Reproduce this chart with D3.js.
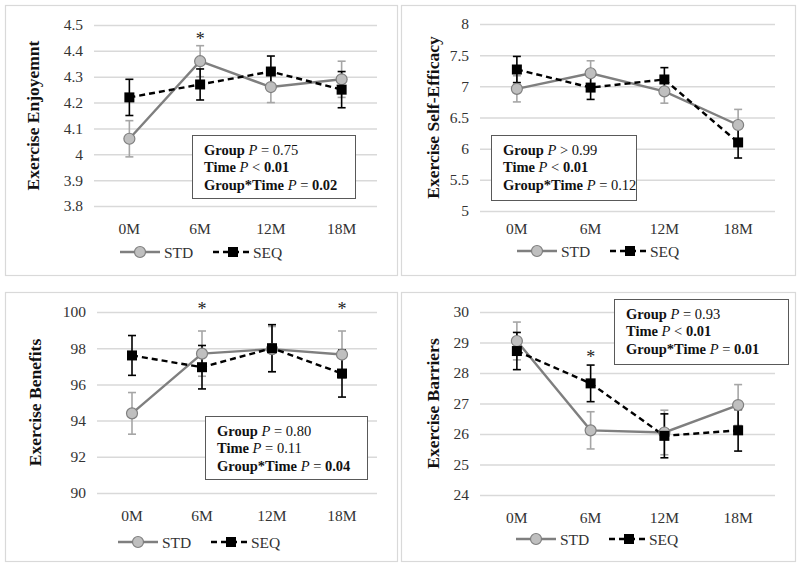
<!DOCTYPE html>
<html><head><meta charset="utf-8">
<script src="https://cdn.jsdelivr.net/npm/d3@7"></script>
<style>body{margin:0;background:#fff}svg{display:block}text{font-family:"Liberation Serif","Times New Roman",serif}</style>
</head><body><svg id="c" width="800" height="569"></svg>
<script>
const categories = ["0M","6M","12M","18M"];
const seriesNames = ["STD","SEQ"];

const enjoyStd = [4.06,4.36,4.26,4.29];
const enjoyStdErr = [0.07,0.06,0.06,0.07];
const enjoySeq = [4.22,4.27,4.32,4.25];
const enjoySeqErr = [0.07,0.06,0.06,0.07];
const enjoyTicks = [3.8,3.9,4.0,4.1,4.2,4.3,4.4,4.5];
const enjoyStars = [["6M",4.455]];

const effStd = [6.96,7.21,6.92,6.38];
const effStdErr = [0.21,0.20,0.19,0.25];
const effSeq = [7.27,6.98,7.11,6.10];
const effSeqErr = [0.21,0.19,0.19,0.25];
const effTicks = [5,5.5,6,6.5,7,7.5,8];
const effStars = [];

const benStd = [94.4,97.7,97.95,97.65];
const benStdErr = [1.15,1.25,1.25,1.3];
const benSeq = [97.6,96.95,98.0,96.6];
const benSeqErr = [1.1,1.2,1.3,1.3];
const benTicks = [90,92,94,96,98,100];
const benStars = [["6M",100.25],["18M",100.25]];

const barStd = [29.05,26.12,26.05,26.95];
const barStdErr = [0.62,0.61,0.73,0.67];
const barSeq = [28.72,27.66,25.94,26.12];
const barSeqErr = [0.61,0.6,0.72,0.68];
const barTicks = [24,25,26,27,28,29,30];
const barStars = [["6M",28.6]];

const enjoyStats = [["Group ","0.75",false,"="],["Time ","0.01",true,"<"],["Group*Time ","0.02",true,"="]];
const effStats = [["Group ","0.99",false,">"],["Time ","0.01",true,"<"],["Group*Time ","0.12",false,"="]];
const benStats = [["Group ","0.80",false,"="],["Time ","0.11",false,"="],["Group*Time ","0.04",true,"="]];
const barStats = [["Group ","0.93",false,"="],["Time ","0.01",true,"<"],["Group*Time ","0.01",true,"="]];

const panels = [
 {frame:[5,5,397,275], plot:[94,25,377,206], title:"Exercise Enjoyemnt", titleX:33,
  std:enjoyStd, stdErr:enjoyStdErr, seq:enjoySeq, seqErr:enjoySeqErr, ticks:enjoyTicks, stars:enjoyStars,
  stats:enjoyStats, box:[192,135,355,198], legX:120, legY:252, xlabY:232},
 {frame:[401,5,795,275], plot:[480,24,775,211], title:"Exercise Self-Efficacy", titleX:433,
  std:effStd, stdErr:effStdErr, seq:effSeq, seqErr:effSeqErr, ticks:effTicks, stars:effStars,
  stats:effStats, box:[491,135,636,200], legX:517, legY:251, xlabY:232},
 {frame:[5,292,397,561], plot:[97,312,377,493], title:"Exercise Benefits", titleX:35,
  std:benStd, stdErr:benStdErr, seq:benSeq, seqErr:benSeqErr, ticks:benTicks, stars:benStars,
  stats:benStats, box:[205,416,367,479], legX:118, legY:542, xlabY:519},
 {frame:[401,292,795,561], plot:[480,312,775,495], title:"Exercise Barriers", titleX:433,
  std:barStd, stdErr:barStdErr, seq:barSeq, seqErr:barSeqErr, ticks:barTicks, stars:barStars,
  stats:barStats, box:[614,299,788,364], legX:516, legY:539, xlabY:521}
];

const svg = d3.select("#c");
const STD_LINE = "#7f7f7f", STD_FILL = "#bfbfbf", STD_ERR = "#a6a6a6", GRID = "#d9d9d9", TXT = "#333";

panels.forEach(p => {
  const g = svg.append("g");
  const [fx0,fy0,fx1,fy1] = p.frame;
  g.append("rect").attr("x",fx0+0.5).attr("y",fy0+0.5).attr("width",fx1-fx0).attr("height",fy1-fy0)
    .attr("fill","#fff").attr("stroke",GRID).attr("stroke-width",1.2);
  const [px0,py0,px1,py1] = p.plot;
  const x = d3.scaleBand().domain(categories).range([px0,px1]);
  const y = d3.scaleLinear().domain([p.ticks[0], p.ticks[p.ticks.length-1]]).range([py1,py0]);
  const cx = c => x(c) + x.bandwidth()/2;

  const yAxis = d3.axisLeft(y).tickValues(p.ticks).tickSize(-(px1-px0)).tickFormat(d3.format("~g"));
  const ya = g.append("g").attr("transform",`translate(${px0},0)`).call(yAxis).attr("font-family",null);
  ya.select(".domain").remove();
  ya.selectAll(".tick line").attr("stroke",GRID).attr("stroke-width",1.5);
  ya.selectAll(".tick text").attr("x",-11).attr("font-size",15.5).attr("fill",TXT);

  const xAxis = d3.axisBottom(x).tickSize(0);
  const xa = g.append("g").attr("transform",`translate(0,${p.xlabY-12})`).call(xAxis).attr("font-family",null);
  xa.select(".domain").remove();
  xa.selectAll(".tick text").attr("font-size",15.5).attr("fill",TXT).attr("dy","0.71em");

  g.append("text").attr("transform",`translate(${p.titleX},${(py0+py1)/2}) rotate(-90)`)
    .attr("text-anchor","middle").attr("dominant-baseline","central")
    .attr("font-size",17.5).attr("font-weight","bold").attr("fill","#111").text(p.title);

  const rows = categories.map((c,i)=>({c, s:p.std[i], se:p.stdErr[i], q:p.seq[i], qe:p.seqErr[i]}));

  function errBars(key, ekey, color){
    const eg = g.append("g").attr("stroke",color).attr("stroke-width",1.6).attr("fill","none");
    rows.forEach(r=>{
      const X = cx(r.c), y1 = y(r[key]+r[ekey]), y2 = y(r[key]-r[ekey]);
      eg.append("line").attr("x1",X).attr("x2",X).attr("y1",y1).attr("y2",y2);
      eg.append("line").attr("x1",X-4).attr("x2",X+4).attr("y1",y1).attr("y2",y1);
      eg.append("line").attr("x1",X-4).attr("x2",X+4).attr("y1",y2).attr("y2",y2);
    });
  }
  errBars("s","se",STD_ERR);
  errBars("q","qe","#000");

  const lineS = d3.line().x(r=>cx(r.c)).y(r=>y(r.s));
  const lineQ = d3.line().x(r=>cx(r.c)).y(r=>y(r.q));
  g.append("path").attr("d",lineS(rows)).attr("fill","none").attr("stroke",STD_LINE).attr("stroke-width",2.4);
  g.append("path").attr("d",lineQ(rows)).attr("fill","none").attr("stroke","#000").attr("stroke-width",2.4)
    .attr("stroke-dasharray","6,4");

  g.selectAll(".ms").data(rows).enter().append("circle")
    .attr("cx",r=>cx(r.c)).attr("cy",r=>y(r.s)).attr("r",5.5)
    .attr("fill",STD_FILL).attr("stroke",STD_LINE).attr("stroke-width",1.2);
  g.selectAll(".mq").data(rows).enter().append("rect")
    .attr("x",r=>cx(r.c)-5).attr("y",r=>y(r.q)-5).attr("width",10).attr("height",10).attr("fill","#000");

  p.stars.forEach(([c,v])=>{
    g.append("text").attr("x",cx(c)).attr("y",y(v)+8).attr("text-anchor","middle")
      .attr("font-size",18).attr("fill","#222").text("*");
  });

  const [bx0,by0,bx1,by1] = p.box;
  g.append("rect").attr("x",bx0+0.5).attr("y",by0+0.5).attr("width",bx1-bx0).attr("height",by1-by0)
    .attr("fill","#fff").attr("stroke","#595959").attr("stroke-width",1);
  p.stats.forEach((st,i)=>{
    const t = g.append("text").attr("x",bx0+12).attr("y",by0+20+i*17.3)
      .attr("font-size",14.5).attr("fill","#111");
    t.append("tspan").attr("font-weight","bold").text(st[0]);
    t.append("tspan").attr("font-style","italic").text("P");
    t.append("tspan").text(" "+st[3]+" ");
    t.append("tspan").attr("font-weight",st[2]?"bold":"normal").text(st[1]);
  });

  const lx = p.legX, ly = p.legY;
  g.append("line").attr("x1",lx).attr("x2",lx+40).attr("y1",ly).attr("y2",ly)
    .attr("stroke",STD_LINE).attr("stroke-width",2.4);
  g.append("circle").attr("cx",lx+20).attr("cy",ly).attr("r",5.5).attr("fill",STD_FILL)
    .attr("stroke",STD_LINE).attr("stroke-width",1.2);
  g.append("text").attr("x",lx+44).attr("y",ly+5.5).attr("font-size",15.5).attr("fill",TXT).text(seriesNames[0]);
  g.append("line").attr("x1",lx+93).attr("x2",lx+131).attr("y1",ly).attr("y2",ly)
    .attr("stroke","#000").attr("stroke-width",2.4).attr("stroke-dasharray","6,4");
  g.append("rect").attr("x",lx+108).attr("y",ly-5).attr("width",10).attr("height",10).attr("fill","#000");
  g.append("text").attr("x",lx+133).attr("y",ly+5.5).attr("font-size",15.5).attr("fill",TXT).text(seriesNames[1]);
});
</script></body></html>
